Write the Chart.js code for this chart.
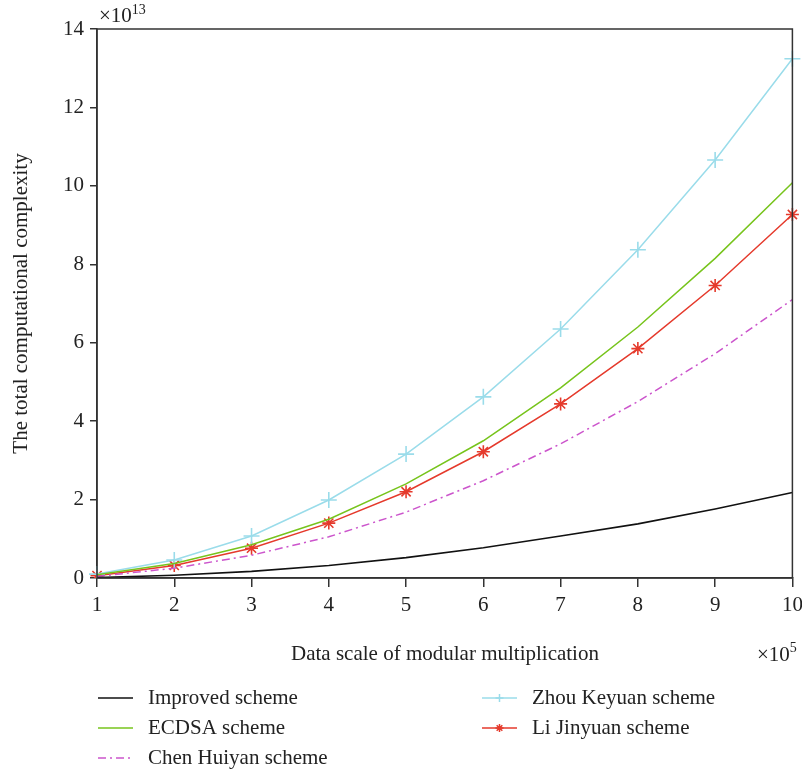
<!DOCTYPE html>
<html>
<head>
<meta charset="utf-8">
<script src="https://cdn.jsdelivr.net/npm/chart.js@4.4.1/dist/chart.umd.min.js"></script>
<style>
  html, body { margin: 0; padding: 0; background: #fff; }
  #wrap { width: 802px; height: 773px; position: relative; }
</style>
</head>
<body>
<div id="wrap"><canvas id="chart"></canvas></div>
<script>
// data (x in units of 1e5, y in units of 1e13)
const scales = ['1', '2', '3', '4', '5', '6', '7', '8', '9', '10'];
const improved = [0.01, 0.07, 0.17, 0.32, 0.52, 0.77, 1.07, 1.38, 1.76, 2.18];
const ecdsa = [0.08, 0.37, 0.85, 1.5, 2.4, 3.5, 4.85, 6.4, 8.15, 10.08];
const chen = [0.04, 0.25, 0.58, 1.05, 1.68, 2.48, 3.42, 4.5, 5.72, 7.1];
const zhou = [0.1, 0.46, 1.07, 1.99, 3.16, 4.62, 6.35, 8.37, 10.66, 13.24];
const li = [0.06, 0.32, 0.76, 1.4, 2.2, 3.22, 4.44, 5.85, 7.46, 9.27];
const yTicks = [0, 2, 4, 6, 8, 10, 12, 14];

const FONT = '"Liberation Serif", "DejaVu Serif", serif';
const TEXT = '#222';

const extras = {
    id: 'extras',
    afterDraw(chart) {
        const ctx = chart.ctx;
        const a = chart.chartArea;
        ctx.save();
        // box
        ctx.strokeStyle = '#333';
        ctx.lineWidth = 1.5;
        ctx.strokeRect(a.left, a.top, a.right - a.left, a.bottom - a.top);

        ctx.fillStyle = TEXT;
        ctx.font = '21px ' + FONT;
        ctx.textBaseline = 'middle';

        // y title
        ctx.save();
        ctx.translate(21, (a.top + a.bottom) / 2);
        ctx.rotate(-Math.PI / 2);
        ctx.textAlign = 'center';
        ctx.fillText('The total computational complexity', 0, 0);
        ctx.restore();

        // x title
        ctx.textAlign = 'center';
        ctx.fillText('Data scale of modular multiplication', 445, 654);

        // exponents
        ctx.textAlign = 'left';
        ctx.fillText('\u00d710', 99, 16);
        let w = ctx.measureText('\u00d710').width;
        ctx.font = '14px ' + FONT;
        ctx.fillText('13', 99 + w, 10);
        ctx.font = '21px ' + FONT;
        ctx.fillText('\u00d710', 757, 655);
        w = ctx.measureText('\u00d710').width;
        ctx.font = '14px ' + FONT;
        ctx.fillText('5', 757 + w, 648);

        // legend
        const slots = [
            [98, 698], [98, 728], [98, 758], [482, 698], [482, 728]
        ];
        ctx.font = '21px ' + FONT;
        chart.data.datasets.forEach((ds, i) => {
            const [x, y] = slots[i];
            ctx.strokeStyle = ds.borderColor;
            ctx.lineWidth = 1.5;
            ctx.setLineDash(ds.borderDash || []);
            ctx.beginPath();
            ctx.moveTo(x, y);
            ctx.lineTo(x + 35, y);
            ctx.stroke();
            ctx.setLineDash([]);
            if (ds.pointStyle && ds.pointRadius > 0) {
                Chart.helpers.drawPoint(ctx, {
                    pointStyle: ds.pointStyle,
                    radius: 4,
                    borderWidth: 1.2,
                    rotation: 0
                }, x + 17.5, y);
            }
            ctx.fillStyle = TEXT;
            ctx.textAlign = 'left';
            ctx.fillText(ds.label, x + 50, y);
        });
        ctx.restore();
    }
};

new Chart(document.getElementById('chart'), {
    type: 'line',
    data: {
        labels: scales,
        datasets: [
            { label: 'Improved scheme', data: improved, borderColor: '#111', borderWidth: 1.6, pointRadius: 0 },
            { label: 'ECDSA scheme', data: ecdsa, borderColor: '#77c41c', borderWidth: 1.5, pointRadius: 0 },
            { label: 'Chen Huiyan scheme', data: chen, borderColor: '#cc55cc', borderWidth: 1.5, borderDash: [8, 4, 2, 4], pointRadius: 0 },
            { label: 'Zhou Keyuan scheme', data: zhou, borderColor: '#9adcea', borderWidth: 1.5, pointStyle: 'cross', pointRadius: 8, pointBorderWidth: 1.6, pointBorderColor: '#9adcea' },
            { label: 'Li Jinyuan scheme', data: li, borderColor: '#e53a2c', borderWidth: 1.5, pointStyle: 'star', pointRadius: 6.5, pointBorderWidth: 1.6, pointBorderColor: '#e53a2c' }
        ]
    },
    options: {
        responsive: true,
        maintainAspectRatio: false,
        animation: false,
        layout: { padding: { top: 29, right: 9, left: 0, bottom: 0 } },
        plugins: { legend: { display: false }, tooltip: { enabled: false } },
        elements: { line: { tension: 0 } },
        scales: {
            x: {
                type: 'category',
                offset: false,
                grid: { drawOnChartArea: false, drawTicks: true, tickLength: 9, color: '#333', lineWidth: 1.5 },
                border: { display: true, color: '#333', width: 1.5 },
                ticks: { color: TEXT, font: { family: FONT, size: 21 }, padding: 6, maxRotation: 0, autoSkip: false },
                afterFit(scale) {
                    scale.height = 195;
                    scale.paddingLeft = 0;
                    scale.paddingRight = 0;
                }
            },
            y: {
                min: 0,
                max: 14,
                afterBuildTicks(scale) { scale.ticks = yTicks.map(v => ({ value: v })); },
                grid: { drawOnChartArea: false, drawTicks: true, tickLength: 7, color: '#333', lineWidth: 1.5 },
                border: { display: true, color: '#333', width: 1.5 },
                ticks: { color: TEXT, font: { family: FONT, size: 21 }, padding: 6 },
                afterFit(scale) {
                    scale.width = 97;
                    scale.paddingTop = 0;
                    scale.paddingBottom = 0;
                }
            }
        }
    },
    plugins: [extras]
});
</script>
</body>
</html>
